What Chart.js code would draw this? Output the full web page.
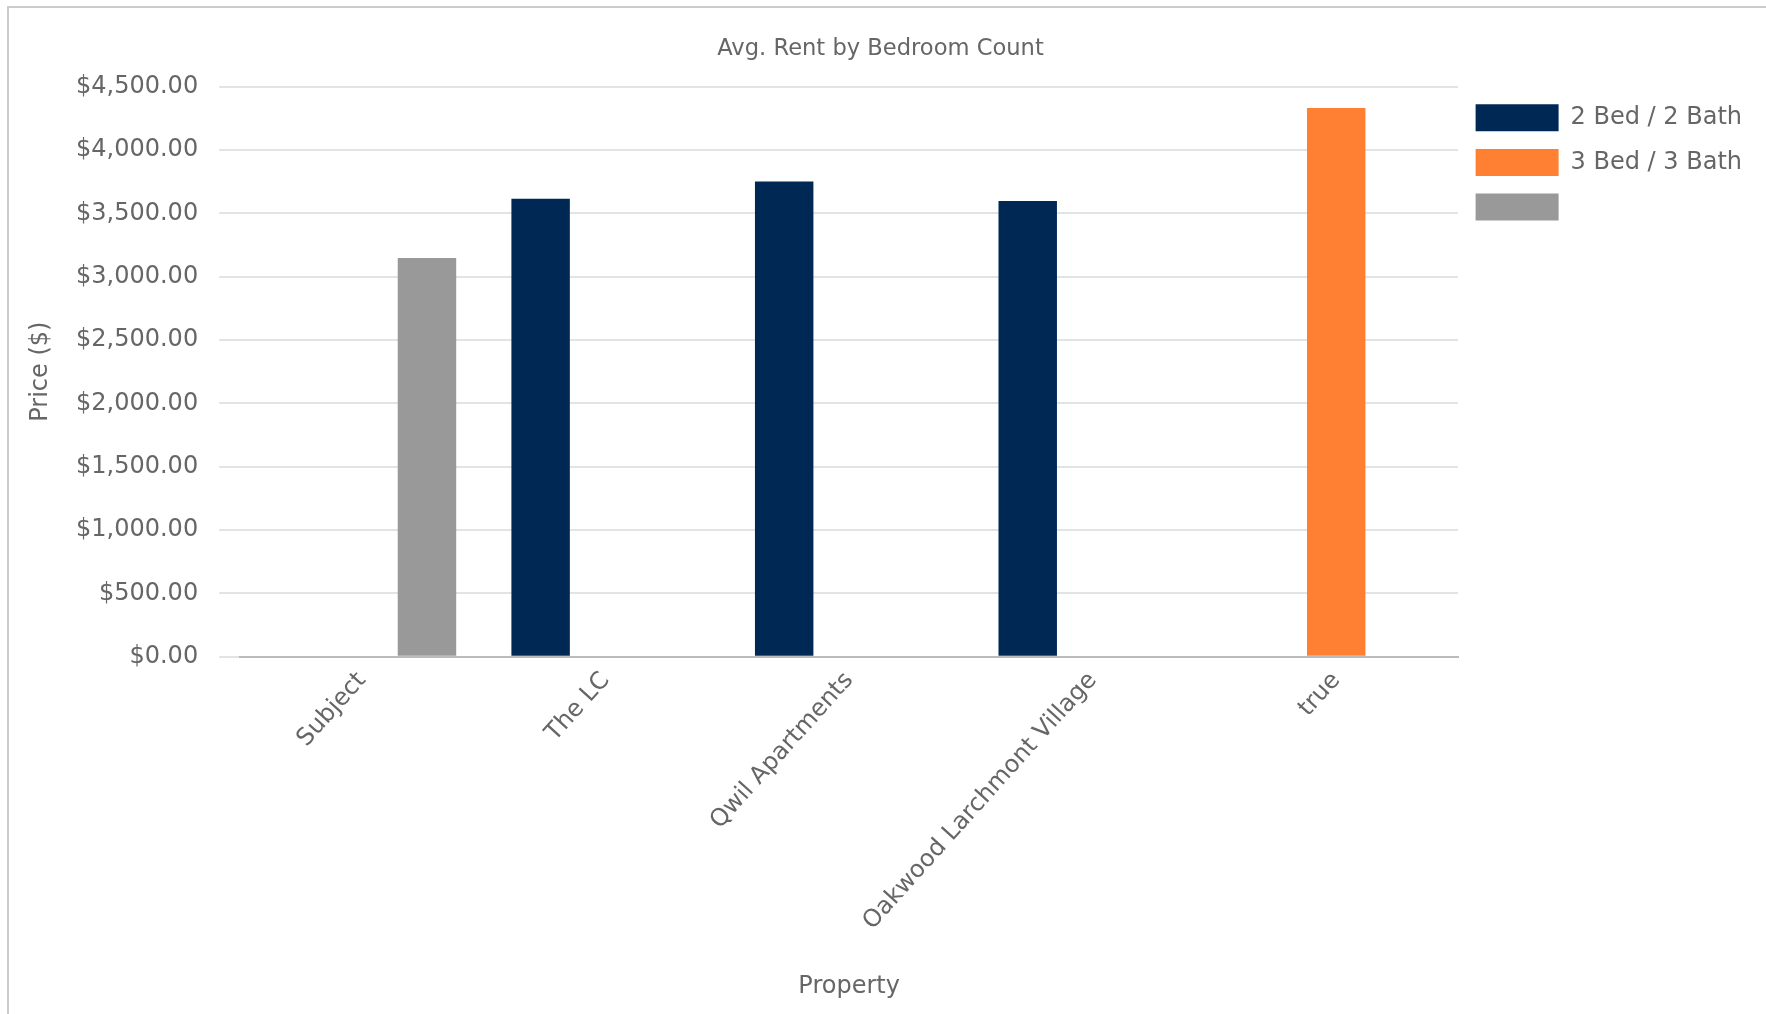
<!DOCTYPE html>
<html>
<head>
<meta charset="utf-8">
<script src="https://cdn.jsdelivr.net/npm/chart.js@4.4.1/dist/chart.umd.min.js"></script>
<style>
  html, body { margin: 0; padding: 0; background: #fff; overflow: hidden; width: 1766px; height: 1014px; }
  #frame { position: absolute; left: 7px; top: 6px; width: 2000px; height: 2000px; border: 2px solid #cccccc; box-sizing: border-box; }
  #c { position: absolute; left: 9px; top: 9px; }
</style>
</head>
<body>
<div id="frame"></div>
<canvas id="c" width="1743" height="992"></canvas>
<script>
const categories = ["Subject", "The LC", "Qwil Apartments", "Oakwood Larchmont Village", "true"];
const twoBedTwoBath = [null, 3615, 3752, 3597, null];
const threeBedThreeBath = [null, null, null, null, 4331];
const unlabeledSeries = [3147, null, null, null, null];
const seriesLabels = ["2 Bed / 2 Bath", "3 Bed / 3 Bath", ""];
const yTicks = [0, 500, 1000, 1500, 2000, 2500, 3000, 3500, 4000, 4500];

const FONT = "'DejaVu Sans', sans-serif";
const TEXT = "#666666";

new Chart(document.getElementById("c"), {
  type: "bar",
  data: {
    labels: categories,
    datasets: [
      { label: seriesLabels[0], data: twoBedTwoBath, backgroundColor: "#002855" },
      { label: seriesLabels[1], data: threeBedThreeBath, backgroundColor: "#FF8033" },
      { label: seriesLabels[2], data: unlabeledSeries, backgroundColor: "#999999" }
    ]
  },
  options: {
    responsive: false,
    animation: false,
    devicePixelRatio: 1,
    layout: { padding: 0 },
    plugins: {
      title: {
        display: true,
        text: "Avg. Rent by Bedroom Count",
        color: TEXT,
        font: { family: FONT, size: 22.6, weight: "normal" },
        padding: { top: 27, bottom: 23.6 }
      },
      legend: {
        position: "right",
        align: "start",
        fullSize: false,
        labels: {
          color: TEXT,
          font: { family: FONT, size: 24 },
          boxWidth: 83,
          boxHeight: 27,
          padding: 17.6
        }
      },
      tooltip: { enabled: false }
    },
    scales: {
      x: {
        grid: { display: false, drawTicks: false },
        border: { display: true, color: "#bbbbbb", width: 2 },
        ticks: {
          color: TEXT,
          font: { family: FONT, size: 24 },
          minRotation: 48,
          maxRotation: 48,
          padding: 10,
          autoSkip: false
        },
        title: {
          display: true,
          text: "Property",
          color: TEXT,
          font: { family: FONT, size: 24 },
          padding: { top: 26.5, bottom: 0 }
        }
      },
      y: {
        min: yTicks[0],
        max: yTicks[yTicks.length - 1],
        afterBuildTicks: (axis) => { axis.ticks = yTicks.map(v => ({ value: v })); },
        grid: { color: "#e3e3e3", lineWidth: 2, tickLength: 21, drawTicks: true },
        border: { display: false },
        ticks: {
          color: TEXT,
          font: { family: FONT, size: 24 },
          padding: 21.1,
          callback: (v) => "$" + Number(v).toLocaleString("en-US", { minimumFractionDigits: 2, maximumFractionDigits: 2 })
        },
        title: {
          display: true,
          text: "Price ($)",
          color: TEXT,
          font: { family: FONT, size: 24 },
          padding: { top: 17.1, bottom: 0 }
        }
      }
    }
  }
});
</script>
</body>
</html>
